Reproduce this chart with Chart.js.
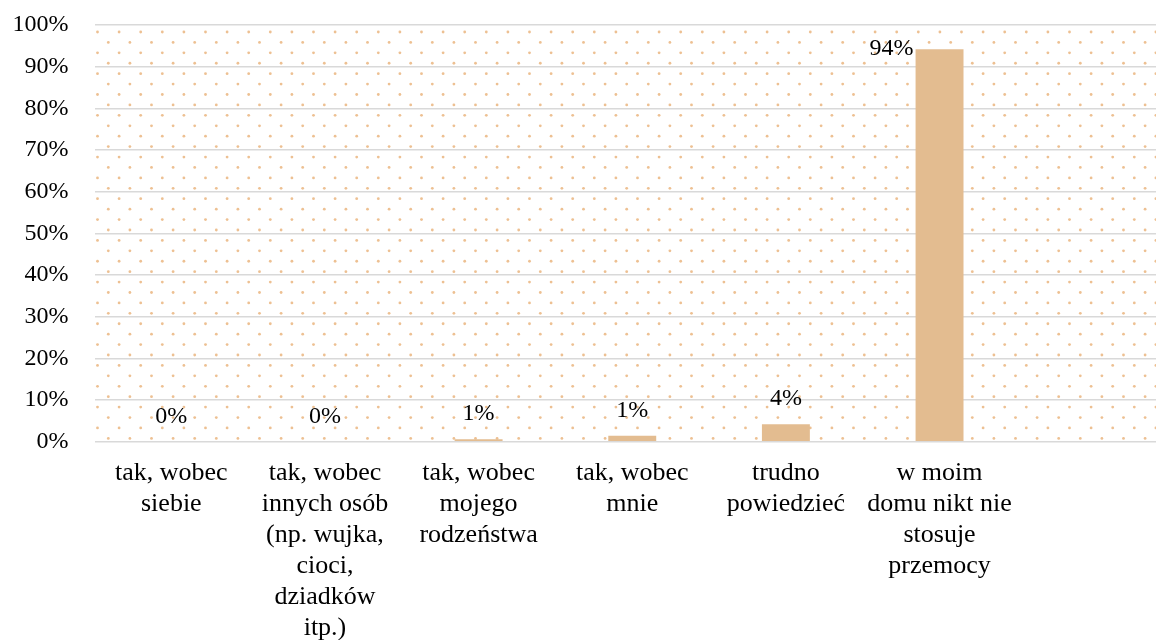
<!DOCTYPE html>
<html>
<head>
<meta charset="utf-8">
<script src="https://cdn.jsdelivr.net/npm/chart.js@4/dist/chart.umd.min.js"></script>
<style>
html,body{margin:0;padding:0;background:#fff;overflow:hidden;width:1156px;height:640px;}
canvas{display:block;}
</style>
</head>
<body>
<canvas id="c" width="1170" height="640" style="width:1170px;height:640px;"></canvas>
<script>
const categories = [
  ['tak, wobec', 'siebie'],
  ['tak, wobec', 'innych osób', '(np. wujka,', 'cioci,', 'dziadków', 'itp.)'],
  ['tak, wobec', 'mojego', 'rodzeństwa'],
  ['tak, wobec', 'mnie'],
  ['trudno', 'powiedzieć'],
  ['w moim', 'domu nikt nie', 'stosuje', 'przemocy'],
  ''
];
const values = [0, 0, 0.6, 1.4, 4.2, 94.2, null];
const yTicks = [0, 10, 20, 30, 40, 50, 60, 70, 80, 90, 100];

const FONT = "'Liberation Serif', 'Times New Roman', serif";

const dotsPlugin = {
  id: 'dots',
  beforeDraw(chart) {
    const {ctx, chartArea: a} = chart;
    ctx.save();
    ctx.beginPath();
    ctx.rect(a.left, a.top, a.right - a.left, a.bottom - a.top + 1);
    ctx.clip();
    ctx.fillStyle = 'rgba(230,165,100,0.7)';
    const dx = 21.6, dy = 10.42;
    let row = 0;
    for (let y = a.top + 7; y <= a.bottom + 1; y += dy, row++) {
      const off = (row % 2) ? dx / 2 : 0;
      for (let x = a.left + 3 + off; x <= a.right; x += dx) {
        ctx.beginPath();
        ctx.arc(x, y, 1.4, 0, Math.PI * 2);
        ctx.fill();
      }
    }
    ctx.restore();
  }
};

const labelsPlugin = {
  id: 'barLabels',
  afterDatasetsDraw(chart) {
    const {ctx} = chart;
    const meta = chart.getDatasetMeta(0);
    ctx.save();
    ctx.font = '24px ' + FONT;
    ctx.fillStyle = '#000';
    ctx.textBaseline = 'middle';
    meta.data.forEach((bar, i) => {
      const v = values[i];
      if (v === null || v === undefined) return;
      const txt = Math.round(v) + '%';
      if (v > 50) {
        ctx.textAlign = 'right';
        ctx.fillText(txt, bar.x - bar.width / 2 - 2, bar.y);
      } else {
        ctx.textAlign = 'center';
        ctx.fillText(txt, bar.x, bar.y - 25);
      }
    });
    ctx.restore();
  }
};

new Chart(document.getElementById('c'), {
  type: 'bar',
  data: {
    labels: categories,
    datasets: [{
      data: values,
      backgroundColor: '#E3BC90',
      borderWidth: 0,
      categoryPercentage: 1,
      barPercentage: 0.312
    }]
  },
  options: {
    responsive: false,
    animation: false,
    layout: { padding: { top: 25, right: 0, left: 0, bottom: 0 } },
    plugins: { legend: { display: false }, tooltip: { enabled: false } },
    scales: {
      x: {
        grid: { display: false, drawTicks: false },
        border: { display: false },
        ticks: {
          autoSkip: false, maxRotation: 0, minRotation: 0,
          padding: 16,
          color: '#000',
          font: { family: FONT, size: 26, lineHeight: '31px' }
        },
        afterFit(scale) { scale.height = 198.3; scale.paddingTop = 0; scale.paddingLeft = 0; scale.paddingRight = 0; }
      },
      y: {
        min: 0, max: 100,
        afterBuildTicks(scale) { scale.ticks = yTicks.map(v => ({ value: v })); },
        grid: { color: '#D9D9D9', lineWidth: 1.6, drawTicks: false },
        border: { display: false },
        ticks: {
          padding: 26,
          color: '#000',
          font: { family: FONT, size: 24 },
          callback: v => v + '%'
        },
        afterFit(scale) { scale.width = 94.5; scale.paddingTop = 0; scale.paddingBottom = 0; }
      }
    }
  },
  plugins: [dotsPlugin, labelsPlugin]
});
</script>
</body>
</html>
